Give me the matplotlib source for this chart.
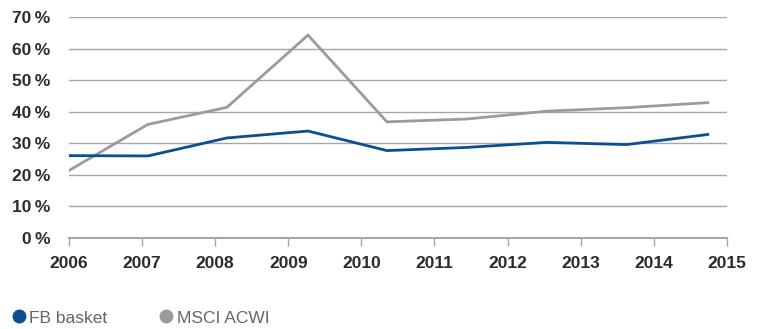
import matplotlib
matplotlib.use("Agg")
import matplotlib.pyplot as plt
from matplotlib.lines import Line2D

# posizioni dei punti in anni (i punti non cadono sulle tacche)
x_pos = [2006.0, 2007.08, 2008.16, 2009.27, 2010.35, 2011.44, 2012.54, 2013.63, 2014.74]
fb_basket = [26.1, 26.0, 31.7, 33.9, 27.7, 28.7, 30.3, 29.6, 32.8]
msci_acwi = [21.4, 36.0, 41.4, 64.3, 36.8, 37.7, 40.2, 41.3, 42.9]
years = list(range(2006, 2016))
y_ticks = [0, 10, 20, 30, 40, 50, 60, 70]

BLUE = "#0b4f8f"
GREY = "#9b9b9b"
GRID = "#a6a6a6"
TXT = "#2b2b2b"

plt.rcParams["font.family"] = ["Liberation Sans", "DejaVu Sans"]

fig = plt.figure(figsize=(7.61, 3.29), dpi=100)
ax = fig.add_axes([0.0907, 0.2766, 0.955 - 0.0907, 0.948 - 0.2766])

ax.plot(x_pos, msci_acwi, color=GREY, lw=2, solid_joinstyle="miter", zorder=3)
ax.plot(x_pos, fb_basket, color=BLUE, lw=2, solid_joinstyle="miter", zorder=4)

ax.set_xlim(2006, 2015)
ax.set_ylim(0, 70)
ax.set_yticks(y_ticks)
ax.set_yticklabels([f"{v}\u2009%" for v in y_ticks])
ax.set_xticks(years)
ax.set_xticklabels([str(y) for y in years])

for v in y_ticks[1:]:
    ax.axhline(v, color=GRID, lw=1, zorder=1)

for s in ["top", "right", "left"]:
    ax.spines[s].set_visible(False)
ax.spines["bottom"].set_color(GRID)
ax.spines["bottom"].set_linewidth(1.5)

ax.tick_params(axis="y", length=0, pad=13.5, labelsize=12.5, labelcolor=TXT)
ax.tick_params(axis="x", length=6, width=1, color=GRID, pad=7,
               labelsize=12.5, labelcolor=TXT)
for lab in ax.get_xticklabels() + ax.get_yticklabels():
    lab.set_fontweight("bold")

handles = [
    Line2D([], [], ls="none", marker="o", ms=9, color=BLUE, label="FB basket"),
    Line2D([], [], ls="none", marker="o", ms=9, color=GREY, label="MSCI ACWI"),
]
fig.legend(handles=handles, loc="lower left", bbox_to_anchor=(-0.005, -0.037),
           ncol=2, frameon=False, fontsize=12.5, handlelength=0.8,
           handletextpad=0.2, columnspacing=3.0, labelcolor="#666666")

fig.savefig("out.png", dpi=100)
